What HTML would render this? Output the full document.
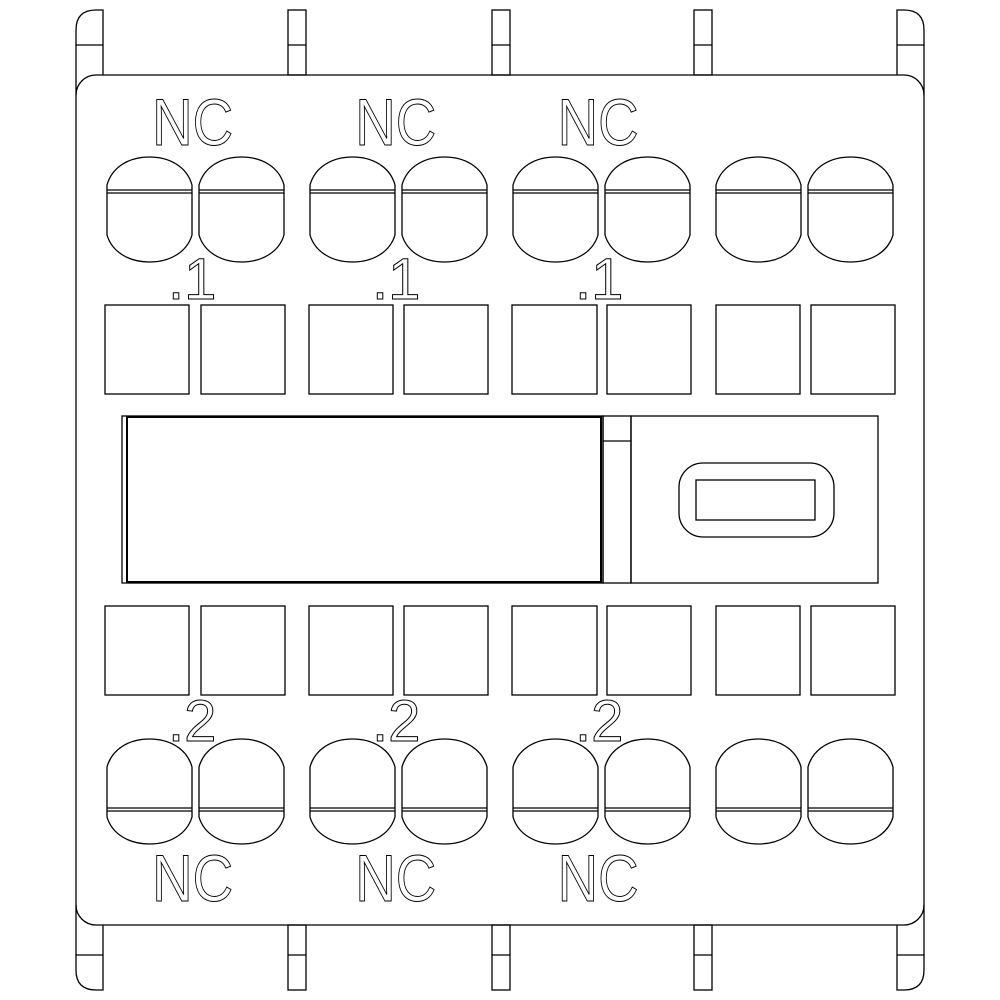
<!DOCTYPE html>
<html><head><style>html,body{margin:0;padding:0;background:#fff}svg{display:block}</style></head>
<body>
<svg width="1000" height="1000" viewBox="0 0 1000 1000" xmlns="http://www.w3.org/2000/svg" fill="none" stroke="#000" stroke-width="1.3">
<defs>
<g id="tt">
<path d="M0,28 C5,10 22,0 42.5,0 C63,0 80,10 85,28 V78 C80,95 63,105 42.5,105 C22,105 5,95 0,78 Z"/>
<line x1="0" y1="33" x2="85" y2="33"/><line x1="0" y1="36" x2="85" y2="36"/>
</g>
<g id="bt">
<path d="M0,28 C5,10 22,0 42.5,0 C63,0 80,10 85,28 V78 C80,95 63,105 42.5,105 C22,105 5,95 0,78 Z"/>
<line x1="0" y1="69" x2="85" y2="69"/><line x1="0" y1="72" x2="85" y2="72"/>
</g>
</defs>
<path d="M76,95 V30 Q76,10 96,10 H103 V75"/><line x1="76" y1="45" x2="103" y2="45"/>
<path d="M924,95 V30 Q924,10 904,10 H897 V75"/><line x1="897" y1="45" x2="924" y2="45"/>
<rect x="288" y="10" width="18" height="65"/><line x1="288" y1="45" x2="306" y2="45"/>
<rect x="492" y="10" width="18" height="65"/><line x1="492" y1="45" x2="510" y2="45"/>
<rect x="694" y="10" width="18" height="65"/><line x1="694" y1="45" x2="712" y2="45"/>
<path d="M76,905 V970 Q76,990 96,990 H103 V925"/><line x1="76" y1="955" x2="103" y2="955"/>
<path d="M924,905 V970 Q924,990 904,990 H897 V925"/><line x1="897" y1="955" x2="924" y2="955"/>
<rect x="288" y="925" width="18" height="65"/><line x1="288" y1="955" x2="306" y2="955"/>
<rect x="492" y="925" width="18" height="65"/><line x1="492" y1="955" x2="510" y2="955"/>
<rect x="694" y="925" width="18" height="65"/><line x1="694" y1="955" x2="712" y2="955"/>
<rect x="76" y="75" width="848" height="850" rx="20"/>
<use href="#tt" x="107" y="157"/><use href="#tt" x="199" y="157"/>
<use href="#tt" x="310" y="157"/><use href="#tt" x="402" y="157"/>
<use href="#tt" x="513" y="157"/><use href="#tt" x="605" y="157"/>
<use href="#tt" x="716" y="157"/><use href="#tt" x="808" y="157"/>
<use href="#bt" x="107" y="739"/><use href="#bt" x="199" y="739"/>
<use href="#bt" x="310" y="739"/><use href="#bt" x="402" y="739"/>
<use href="#bt" x="513" y="739"/><use href="#bt" x="605" y="739"/>
<use href="#bt" x="716" y="739"/><use href="#bt" x="808" y="739"/>
<g>
<rect x="105" y="305" width="84" height="89"/><rect x="201" y="305" width="84" height="89"/>
<rect x="309" y="305" width="84" height="89"/><rect x="404" y="305" width="84" height="89"/>
<rect x="512" y="305" width="85" height="89"/><rect x="607" y="305" width="84" height="89"/>
<rect x="716" y="305" width="84" height="89"/><rect x="811" y="305" width="84" height="89"/>
<rect x="105" y="606" width="84" height="89"/><rect x="201" y="606" width="84" height="89"/>
<rect x="309" y="606" width="84" height="89"/><rect x="404" y="606" width="84" height="89"/>
<rect x="512" y="606" width="85" height="89"/><rect x="607" y="606" width="84" height="89"/>
<rect x="716" y="606" width="84" height="89"/><rect x="811" y="606" width="84" height="89"/>
</g>
<rect x="122" y="416" width="481" height="167"/>
<rect x="127" y="417" width="474" height="165" stroke-width="2"/>
<rect x="603" y="416" width="28" height="167"/>
<line x1="603" y1="441" x2="631" y2="441"/>
<rect x="631" y="416" width="247" height="167"/>
<rect x="679" y="463" width="155" height="74" rx="24"/>
<rect x="696" y="480" width="119" height="40"/>
<g font-family="Liberation Sans, sans-serif" font-size="66" fill="#fff" stroke="#000" stroke-width="1" transform="scale(0.85,1)">
<text x="179" y="145">NC</text><text x="418" y="145">NC</text><text x="656" y="145">NC</text>
<text x="179" y="901">NC</text><text x="418" y="901">NC</text><text x="656" y="901">NC</text>
</g>
<g font-family="Liberation Sans, sans-serif" font-size="58" fill="#fff" stroke="#000" stroke-width="1">
<text x="168" y="299">.1</text><text x="372" y="299">.1</text><text x="575" y="299">.1</text>
<text x="168" y="741">.2</text><text x="372" y="741">.2</text><text x="575" y="741">.2</text>
</g>
</svg>
</body></html>
